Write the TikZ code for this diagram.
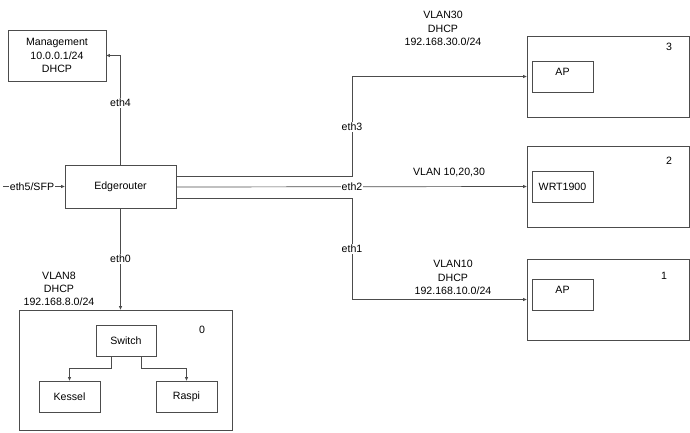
\documentclass[tikz,border=0pt]{standalone}
\usepackage{fontspec}
\setmainfont{Liberation Sans}
\usetikzlibrary{arrows.meta}
\begin{document}
\begin{tikzpicture}[x=1pt,y=-1pt,
  font=\fontsize{10.6}{13.3}\selectfont,
  box/.style={draw=black!70, line width=0.7pt, rectangle, inner sep=0pt},
  link/.style={draw=black!70, line width=0.7pt, -{Triangle[length=3.5pt,width=3pt]}},
  port/.style={fill=white, inner sep=1pt}]
\useasboundingbox (0,0) rectangle (690,432);

\node[box, minimum width=98pt, minimum height=51pt, align=center] (mgmt) at (57,55.5) {Management\\10.0.0.1/24\\DHCP};
\node[box, minimum width=111pt, minimum height=43pt] (router) at (120.5,186.5) {Edgerouter};
\coordinate (wan) at (3,186.5);

% VLAN8 group
\node[box, minimum width=213pt, minimum height=120pt] (g0) at (125.5,370) {};
\node (n0) at (202,330) {0};
\node[box, minimum width=60pt, minimum height=31pt] (switch) at (126,340.5) {Switch};
\node[box, minimum width=61pt, minimum height=31pt] (kessel) at (69.5,396.5) {Kessel};
\node[box, minimum width=61pt, minimum height=31pt] (raspi) at (186.5,396.5) {Raspi};
\node[align=center] (vlan8) at (59,289) {VLAN8\\DHCP\\192.168.8.0/24};

% right side groups
\node[box, minimum width=162pt, minimum height=81pt] (g3) at (608,76.5) {};
\node (n3) at (669,47) {3};
\node[box, minimum width=61pt, minimum height=31pt] (ap3) at (562.5,76.5) {};
\node (ap3t) at (562.5,72) {AP};
\node[box, minimum width=162pt, minimum height=81pt] (g2) at (608,186.5) {};
\node (n2) at (669,161) {2};
\node[box, minimum width=61pt, minimum height=31pt] (wrt) at (562.5,187) {WRT1900};
\node[box, minimum width=162pt, minimum height=81pt] (g1) at (608,299.5) {};
\node (n1) at (664,276) {1};
\node[box, minimum width=61pt, minimum height=31pt] (ap1) at (562.5,294.5) {};
\node (ap1t) at (562.5,290) {AP};

\node[align=center] (vlan30) at (443,28.5) {VLAN30\\DHCP\\192.168.30.0/24};
\node (vlan2) at (449,172) {VLAN 10,20,30};
\node[align=center] (vlan10) at (453,277.5) {VLAN10\\DHCP\\192.168.10.0/24};

% links
\path[link] (router.north) |- (mgmt.east);
\path[link] (wan) -- (router.west);
\path[link] (router.south) -- (router.south |- g0.north);
\path[link] ([xshift=-15pt]switch.south) -- ++(0,12) -| (kessel.north);
\path[link] ([xshift=15pt]switch.south) -- ++(0,12) -| (raspi.north);
\path[link] ([yshift=10.5pt]router.east) -- ++(176,0) |- (g3.west);
\path[link] ([yshift=-0.5pt]router.east) -- (g2.west);
\path[link] ([yshift=-11.5pt]router.east) -- ++(176,0) |- (g1.west);

% port labels
\node[port] (eth4) at (120.5,103) {eth4};
\node[port] (eth5) at (32,186.5) {eth5/SFP};
\node[port] (eth0) at (120.5,259) {eth0};
\node[port] (eth3) at (352,127) {eth3};
\node[port] (eth2) at (352,187) {eth2};
\node[port] (eth1) at (352,249) {eth1};
\end{tikzpicture}
\end{document}
